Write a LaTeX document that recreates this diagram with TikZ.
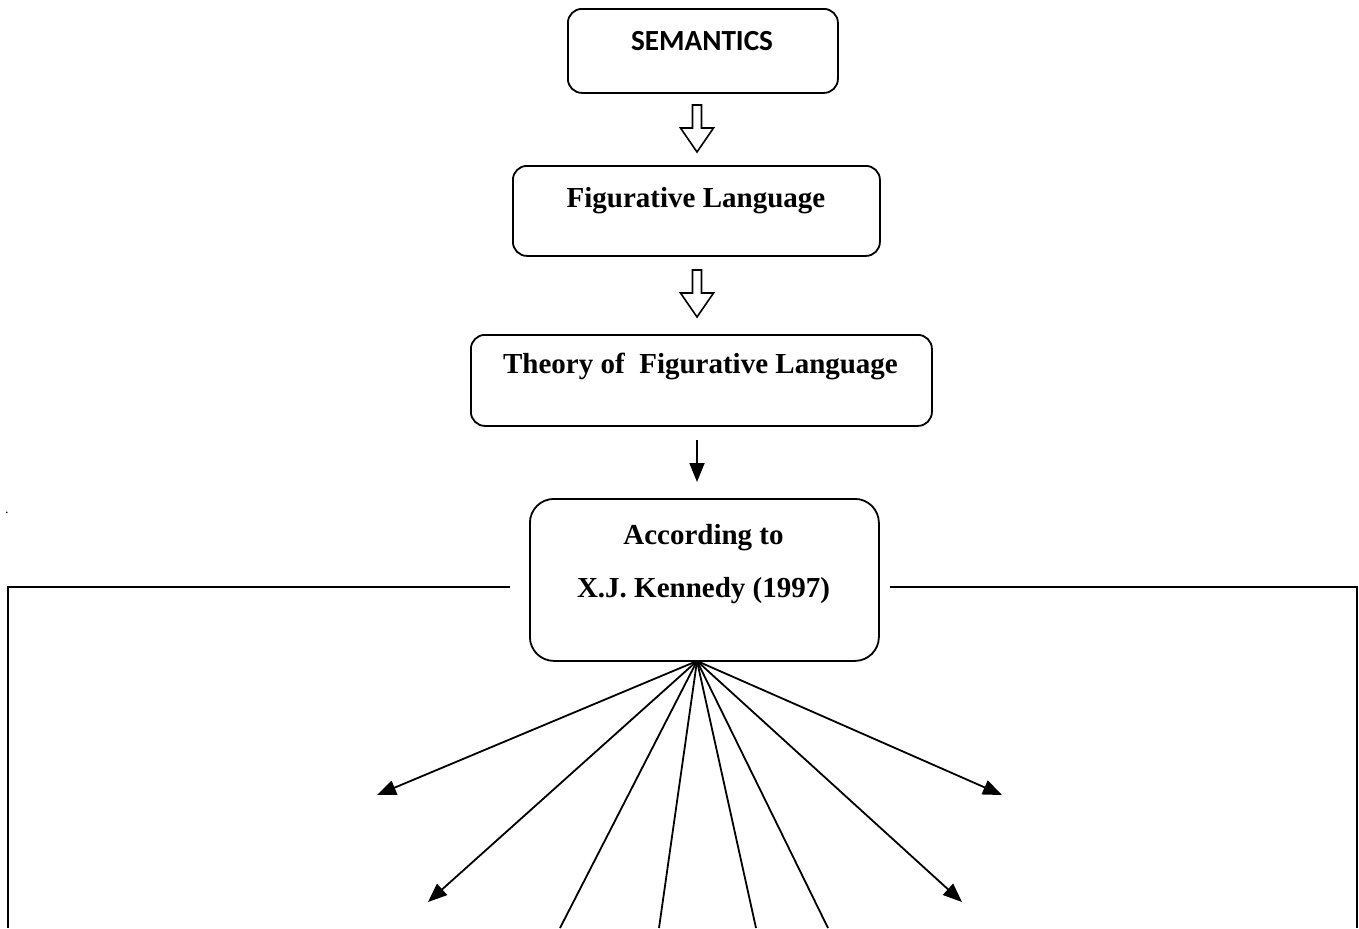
\documentclass[tikz,border=0pt]{standalone}
\usepackage{fontspec}
\setmainfont{Liberation Serif}
\newfontfamily\calib{Carlito}
\usetikzlibrary{arrows.meta, calc}
\tikzset{
  box/.style={draw=black, rounded corners=7pt, line width=0.9pt, anchor=north west, inner sep=0pt},
  bigbox/.style={box, rounded corners=12pt},
  ttl/.style={anchor=base, inner sep=0pt, font=\bfseries\fontsize{14.5}{17}\selectfont},
  sttl/.style={ttl, font=\calib\bfseries\fontsize{14.6}{17}\selectfont},
  arr/.style={-{Triangle[length=9.5pt,width=7.5pt]}, line width=0.9pt},
  ray/.style={line width=0.9pt},
  frame/.style={draw=black, line width=0.9pt},
  hollow/.pic={\draw[line width=0.8pt, line join=miter]
    (-4.5,0) -- (-4.5,23) -- (-16.5,23) -- (0,47) -- (16.5,23) -- (4.5,23) -- (4.5,0) -- cycle;},
}
\begin{document}
\begin{tikzpicture}[x=0.5pt, y=-0.5pt]
  \useasboundingbox[fill=white] (0,0) rectangle (1359,928);
  % ---------------- boxes ----------------
  \node[box, minimum width=135pt, minimum height=42pt] (sem) at (567,8) {};
  \node[sttl] (semt) at (702,50) {SEMANTICS};
  \node[box, minimum width=183.5pt, minimum height=45pt] (fig) at (512,165) {};
  \node[ttl] (figt) at (696,207) {Figurative Language};
  \node[box, minimum width=230.5pt, minimum height=45.5pt] (theory) at (470,334) {};
  \node[ttl] (theoryt) at (700.5,373) {Theory of\ \ Figurative Language};
  \node[bigbox, minimum width=174.5pt, minimum height=81pt] (kennedy) at (529,498) {};
  \node[ttl] (kent1) at (703.5,544) {According to};
  \node[ttl] (kent2) at (703.5,597) {X.J. Kennedy (1997)};
  \node[anchor=base, inner sep=0pt, font=\scriptsize] (dot) at (7,513) {.};

  % ---------------- arrows ----------------
  \coordinate (hub) at (697,661);
  \pic at (697,105) {hollow};
  \pic at (697,270) {hollow};
  \draw[arr, shorten <=6.5pt, shorten >=8pt] (theory.south -| hub) -- (kennedy.north -| hub);

  % ---------------- frame ----------------
  \coordinate (fl) at (510,587);
  \coordinate (fr) at (890,587);
  \draw[frame] (fl) -- (8,587) -- (8,928);
  \draw[frame] (fr) -- (1357,587) -- (1357,928);

  % ---------------- fan ----------------
  \foreach \x/\y [count=\i] in {377/795, 428/902, 962/902, 1002/795}
  {
    \coordinate (tip\i) at (\x,\y);
    \draw[arr] (hub) -- (tip\i);
  }
  \foreach \x [count=\i] in {560, 659, 756, 828}
  {
    \coordinate (foot\i) at (\x,928);
    \draw[ray] (hub) -- (foot\i);
  }
\end{tikzpicture}
\end{document}
